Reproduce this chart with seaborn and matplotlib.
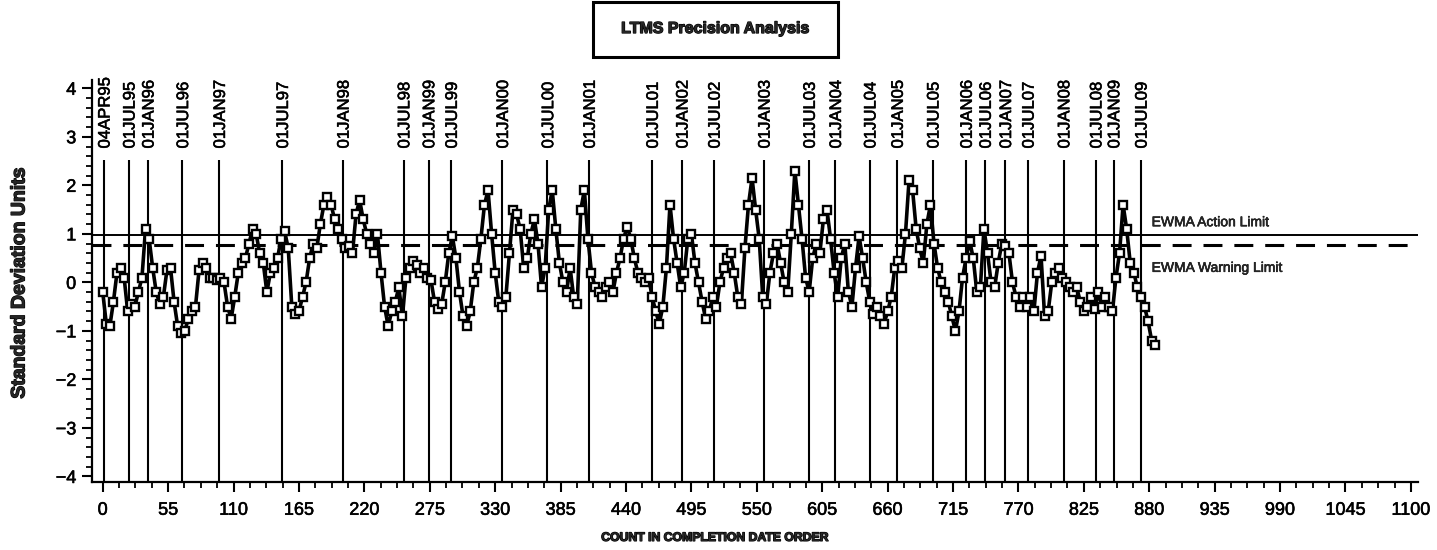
import numpy as np
import pandas as pd
import matplotlib
matplotlib.use("Agg")
import matplotlib.pyplot as plt
import matplotlib.patheffects as pe
from matplotlib.patches import Rectangle
from matplotlib.ticker import MultipleLocator
import seaborn as sns

# ---------------- data ----------------
count_step = 3
ewma_values = [
    -0.2, -0.85, -0.9, -0.4, 0.2, 0.3, 0.1, -0.6, -0.45, -0.5,
    -0.2, 0.1, 1.1, 0.9, 0.3, -0.2, -0.45, -0.3, 0.25, 0.3,
    -0.4, -0.9, -1.05, -1.0, -0.75, -0.6, -0.5, 0.25, 0.4, 0.3,
    0.1, 0.1, 0.05, 0.1, 0.0, -0.5, -0.75, -0.3, 0.2, 0.4,
    0.5, 0.8, 1.1, 1.0, 0.6, 0.4, -0.2, 0.2, 0.3, 0.5,
    0.9, 1.05, 0.7, -0.5, -0.65, -0.6, -0.3, 0.0, 0.5, 0.8,
    0.7, 1.2, 1.6, 1.75, 1.6, 1.3, 1.1, 0.9, 0.7, 0.75,
    0.6, 1.4, 1.7, 1.3, 1.0, 0.8, 0.6, 1.0, 0.2, -0.5,
    -0.9, -0.6, -0.4, -0.1, -0.7, 0.1, 0.3, 0.45, 0.35, 0.2,
    0.3, 0.1, 0.05, -0.4, -0.55, -0.45, 0.0, 0.6, 0.95, 0.5,
    -0.2, -0.7, -0.9, -0.6, 0.0, 0.3, 0.9, 1.6, 1.9, 1.0,
    0.2, -0.4, -0.5, -0.3, 0.6, 1.5, 1.4, 1.1, 0.3, 0.5,
    1.0, 1.3, 0.8, -0.1, 0.3, 1.5, 1.9, 1.1, 0.4, 0.0,
    -0.2, 0.3, -0.3, -0.45, 1.5, 1.9, 0.9, 0.2, -0.1, -0.2,
    -0.3, -0.1, 0.0, -0.2, 0.2, 0.5, 0.9, 1.15, 0.9, 0.5,
    0.2, 0.1, 0.0, 0.1, -0.3, -0.6, -0.85, -0.5, 0.3, 1.6,
    0.9, 0.4, -0.1, 0.2, 0.9, 1.0, 0.4, 0.0, -0.4, -0.75,
    -0.6, -0.3, -0.5, 0.0, 0.3, 0.5, 0.6, 0.2, -0.3, -0.45,
    0.7, 1.6, 2.15, 1.5, 0.9, -0.3, -0.45, 0.2, 0.6, 0.8,
    0.4, 0.0, -0.2, 1.0, 2.3, 1.6, 0.9, 0.1, -0.2, 0.5,
    0.8, 0.6, 1.3, 1.5, 0.9, 0.2, -0.3, 0.5, 0.8, -0.2,
    -0.5, 0.3, 0.95, 0.5, 0.0, -0.4, -0.65, -0.5, -0.7, -0.85,
    -0.6, -0.3, 0.3, 0.45, 0.3, 1.0, 2.1, 1.9, 1.1, 0.7,
    0.4, 1.2, 1.6, 0.8, 0.3, 0.0, -0.2, -0.4, -0.7, -1.0,
    -0.6, 0.1, 0.5, 0.85, 0.5, -0.2, -0.1, 1.1, 0.6, 0.0,
    -0.1, 0.4, 0.8, 0.75, 0.6, 0.0, -0.3, -0.5, -0.3, -0.5,
    -0.3, -0.6, 0.2, 0.55, -0.7, -0.6, 0.0, 0.2, 0.3, 0.1,
    0.0, -0.1, -0.2, -0.1, -0.4, -0.6, -0.5, -0.3, -0.55, -0.2,
    -0.5, -0.3, -0.5, -0.6, 0.1, 0.6, 1.6, 1.1, 0.4, 0.2,
    -0.1, -0.3, -0.5, -0.8, -1.2, -1.3,
]

date_counts = [1, 22, 38, 67, 98, 151, 202, 253, 274, 293, 336, 374, 409,
               462, 487, 514, 556, 594, 616, 645, 668, 698, 726, 742, 759,
               778, 808, 835, 850, 873]
date_labels = ["04APR95", "01JUL95", "01JAN96", "01JUL96", "01JAN97",
               "01JUL97", "01JAN98", "01JUL98", "01JAN99", "01JUL99",
               "01JAN00", "01JUL00", "01JAN01", "01JUL01", "01JAN02",
               "01JUL02", "01JAN03", "01JUL03", "01JAN04", "01JUL04",
               "01JAN05", "01JUL05", "01JAN06", "01JUL06", "01JAN07",
               "01JUL07", "01JAN08", "01JUL08", "01JAN09", "01JUL09"]

action_limit = 0.97
warning_limit = 0.76
x_ticks = list(range(0, 1101, 55))
y_ticks = [-4, -3, -2, -1, 0, 1, 2, 3, 4]

df = pd.DataFrame({
    "count": np.arange(len(ewma_values)) * count_step,
    "value": ewma_values,
})

# ---------------- style ----------------
sns.set_style("ticks")
narrow = ["Liberation Sans Narrow", "Liberation Sans", "DejaVu Sans"]
plt.rcParams["font.family"] = narrow
heavy = [pe.withStroke(linewidth=0.9, foreground="black")]

fig = plt.figure(figsize=(14.37, 5.5), dpi=100)
ax = fig.add_axes([0.0637, 0.1231, 0.9231, 0.7314])

ylo, yhi = -4.12, 4.17
ax.set_xlim(-9.4, 1106)
ax.set_ylim(ylo, yhi)

# vertical date reference lines
ax.vlines(date_counts, ylo, 2.52, color="black", lw=1.5, zorder=1)
for c, lab in zip(date_counts, date_labels):
    ax.text(c + 1, 2.76, lab, rotation=90, ha="center", va="bottom",
            fontsize=12, family=["Liberation Sans", "DejaVu Sans"],
            color="black",
            path_effects=[pe.withStroke(linewidth=0.4, foreground="black")])

# limit lines
ax.axhline(action_limit, color="black", lw=1.4, zorder=2)
ax.axhline(warning_limit, color="black", lw=2.2, ls=(0, (6.2, 3.9)), zorder=2)
ax.text(882, 1.24, "EWMA Action Limit", ha="left", va="center", fontsize=10,
        path_effects=[pe.withStroke(linewidth=0.4, foreground="black")])
ax.text(882, 0.30, "EWMA Warning Limit", ha="left", va="center", fontsize=10,
        path_effects=[pe.withStroke(linewidth=0.4, foreground="black")])

# EWMA series
sns.lineplot(data=df, x="count", y="value", ax=ax, color="black",
             lw=2.6, marker="s", markersize=6.2, markerfacecolor="white",
             markeredgecolor="black", markeredgewidth=1.7, zorder=3,
             estimator=None, sort=False)

# axes styling
for s in ["top", "right"]:
    ax.spines[s].set_visible(False)
for s in ["left", "bottom"]:
    ax.spines[s].set_linewidth(1.6)
    ax.spines[s].set_color("black")

ax.set_xticks(x_ticks)
ax.set_yticks(y_ticks)
ax.set_yticklabels(["\u22124", "\u22123", "\u22122", "\u22121", "0", "1", "2", "3", "4"])
ax.xaxis.set_minor_locator(MultipleLocator(13.75))
ax.yaxis.set_minor_locator(MultipleLocator(0.2))
ax.tick_params(axis="both", which="major", direction="out", length=7,
               width=1.5, labelsize=13, colors="black")
ax.tick_params(axis="both", which="minor", direction="out", length=4,
               width=1.3, colors="black")
ax.tick_params(axis="x", which="major", pad=7)
ax.tick_params(axis="y", which="major", pad=4)
for lab in ax.get_xticklabels() + ax.get_yticklabels():
    lab.set_path_effects([pe.withStroke(linewidth=0.4, foreground="black")])

ax.set_xlabel("")
ax.set_ylabel("")
fig.text(0.0139, 0.486, "Standard Deviation Units", rotation=90,
         ha="center", va="center", fontsize=14, fontweight="bold",
         path_effects=heavy)
fig.text(0.498, 0.022, "COUNT IN COMPLETION DATE ORDER", ha="center",
         va="center", fontsize=8.8, fontweight="bold", path_effects=heavy)

# title in a box
fig.patches.append(Rectangle((593 / 1437, 1 - 56.7 / 550), 245 / 1437,
                             55 / 550, transform=fig.transFigure,
                             fill=False, ec="black", lw=2.2))
fig.text(0.498, 1 - 28.5 / 550, "LTMS Precision Analysis", ha="center",
         va="center", fontsize=11.5, fontweight="bold", path_effects=heavy)

fig.savefig("out.png", dpi=100, facecolor="white")
